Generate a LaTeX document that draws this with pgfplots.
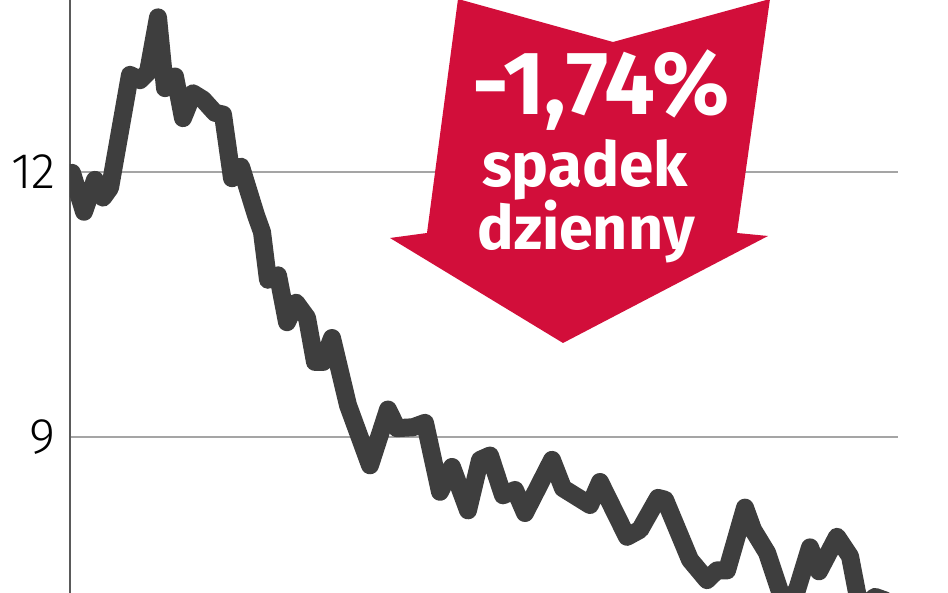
\documentclass[border=0pt]{standalone}
\usepackage{fontspec}
\setmainfont{Fira Sans}
\newfontfamily\tickfont{Fira Sans Light}
\usepackage{pgfplots}
\pgfplotsset{compat=1.18}
\definecolor{linegray}{RGB}{62,62,62}
\definecolor{arrowred}{RGB}{210,14,58}
\definecolor{gridgray}{RGB}{165,165,165}
\definecolor{axisgray}{RGB}{90,90,90}

% kurs
\pgfplotstableread{
x y
72 11.99
84 11.55
95 11.91
103 11.71
110 11.82
130 13.10
140 13.04
148 13.13
158 13.75
165 12.95
175 13.08
183 12.61
193 12.89
203 12.82
215 12.67
223 12.65
232 11.93
241 12.06
256 11.51
262 11.32
268 10.78
278 10.83
287 10.30
296 10.52
307 10.35
315 9.85
323 9.85
332 10.12
348 9.36
370 8.68
388 9.31
397 9.10
413 9.11
425 9.16
440 8.38
452 8.66
468 8.17
480 8.74
490 8.79
503 8.34
515 8.40
525 8.14
552 8.74
563 8.42
590 8.23
600 8.49
627 7.87
640 7.95
658 8.31
665 8.29
690 7.61
707 7.38
717 7.49
727 7.49
745 8.20
753 7.95
767 7.69
780 7.25
787 7.13
797 7.27
810 7.75
819 7.48
837 7.87
850 7.65
858 7.18
865 7.09
875 7.19
885 7.15
}\kurs

\begin{document}
\begin{tikzpicture}[x=1pt,y=1pt]
\useasboundingbox (-70,0) rectangle (878,593);
\clip (-70,0) rectangle (878,593);
\begin{axis}[
    at={(0,0)}, anchor=south west,
    scale only axis,
    width=828pt, height=593pt,
    xmin=70, xmax=898,
    ymin=7.234, ymax=13.947,
    axis x line=none,
    axis y line*=left,
    y axis line style={axisgray, line width=2.5pt},
    ytick={9,12},
    yticklabels={9,12},
    major tick length=0pt,
    ymajorgrids,
    major grid style={gridgray, line width=2pt},
    yticklabel style={font=\tickfont\fontsize{50}{50}\selectfont, anchor=east, inner sep=0pt, xshift=-14pt},
]
\addplot[linegray, line width=18pt, line join=round, line cap=round] table[x=x, y=y] {\kurs};
\end{axis}
\fill[arrowred] (388,594) -- (543,551) -- (700,594) -- (667,360) -- (698,357)
    -- (493,250) -- (320,355) -- (357,360) -- cycle;
\node[anchor=base, inner sep=0pt, text=white, font=\bfseries\fontsize{90}{90}\selectfont] at (531,478) {-1,74\%};
\node[anchor=base, inner sep=0pt, text=white, font=\bfseries\fontsize{62}{62}\selectfont] at (515,406) {spadek};
\node[anchor=base, inner sep=0pt, text=white, font=\bfseries\fontsize{61}{61}\selectfont] at (516,343) {dzienny};
\end{tikzpicture}
\end{document}
